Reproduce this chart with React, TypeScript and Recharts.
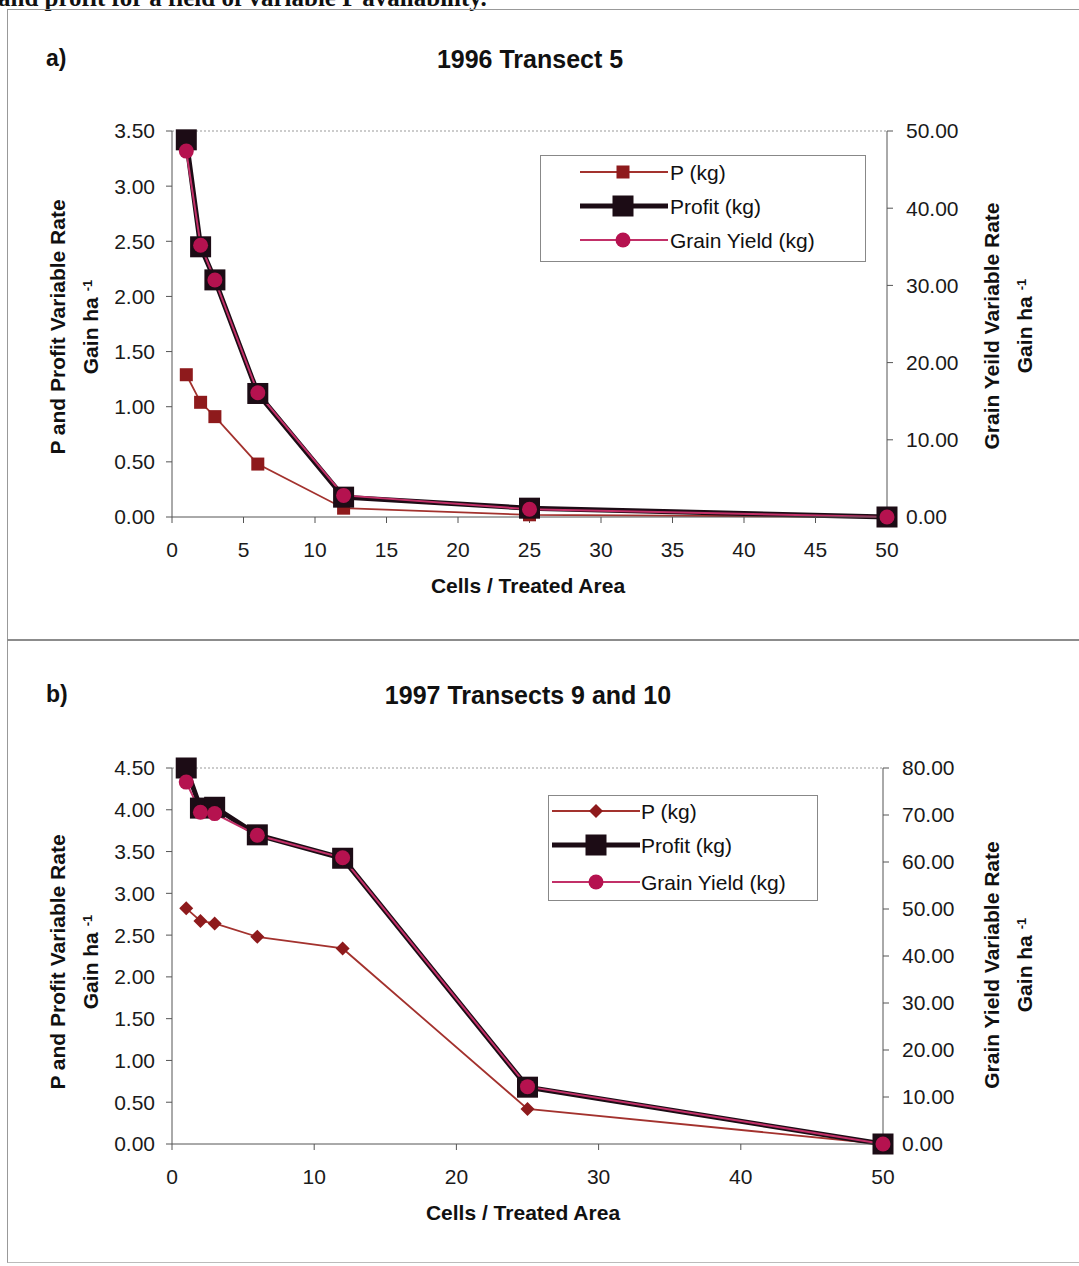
import React from "react";
import { LineChart, Line, XAxis, YAxis, ReferenceLine } from "recharts";

// x values (cells / treated area), shared by both transects
const cells = [1, 2, 3, 6, 12, 25, 50];

// a) 1996 Transect 5
const pA = [1.29, 1.04, 0.91, 0.48, 0.08, 0.02, 0];
const profitA = [3.42, 2.45, 2.15, 1.12, 0.18, 0.08, 0];
const grainA = [47.4, 35.2, 30.7, 16.1, 2.8, 1.0, 0];
const xTicksA = [0, 5, 10, 15, 20, 25, 30, 35, 40, 45, 50];
const leftTicksA = [0, 0.5, 1, 1.5, 2, 2.5, 3, 3.5];
const rightTicksA = [0, 10, 20, 30, 40, 50];

// b) 1997 Transects 9 and 10
const pB = [2.82, 2.67, 2.64, 2.48, 2.34, 0.42, 0];
const profitB = [4.5, 4.02, 4.03, 3.7, 3.42, 0.68, 0];
const grainB = [77.0, 70.6, 70.3, 65.7, 60.9, 12.2, 0];
const xTicksB = [0, 10, 20, 30, 40, 50];
const leftTicksB = [0, 0.5, 1, 1.5, 2, 2.5, 3, 3.5, 4, 4.5];
const rightTicksB = [0, 10, 20, 30, 40, 50, 60, 70, 80];

const P_LINE = "#a3322e";
const P_FILL = "#8e1a1c";
const PROFIT = "#1c0c15";
const GRAIN_LINE = "#c23068";
const GRAIN_FILL = "#b5124f";
const FONT = "'Liberation Sans', Arial, sans-serif";

const tickStyle = { fontSize: 21, fill: "#1a1a1a", fontFamily: FONT };
const axisStroke = "#555";

const squareDot = (size: number, fill: string) => (props: any) => {
  const { cx, cy, index } = props;
  if (cx == null || cy == null) return <g key={index} />;
  return <rect key={index} x={cx - size / 2} y={cy - size / 2} width={size} height={size} fill={fill} />;
};

const circleDot = (r: number, fill: string) => (props: any) => {
  const { cx, cy, index } = props;
  if (cx == null || cy == null) return <g key={index} />;
  return <circle key={index} cx={cx} cy={cy} r={r} fill={fill} />;
};

const diamondDot = (s: number, fill: string) => (props: any) => {
  const { cx, cy, index } = props;
  if (cx == null || cy == null) return <g key={index} />;
  return (
    <polygon
      key={index}
      points={`${cx},${cy - s} ${cx + s},${cy} ${cx},${cy + s} ${cx - s},${cy}`}
      fill={fill}
    />
  );
};

function Marker({ kind, x, y }: { kind: string; x: number; y: number }) {
  if (kind === "psq") return <rect x={x - 6.5} y={y - 6.5} width={13} height={13} fill={P_FILL} />;
  if (kind === "pdia") return <polygon points={`${x},${y - 7} ${x + 7},${y} ${x},${y + 7} ${x - 7},${y}`} fill={P_FILL} />;
  if (kind === "profit") return <rect x={x - 10.5} y={y - 10.5} width={21} height={21} fill={PROFIT} />;
  return <circle cx={x} cy={y} r={7.5} fill={GRAIN_FILL} />;
}

function LegendBox(props: {
  left: number; top: number; width: number; height: number;
  rows: number[]; x0: number; x1: number; mx: number; tx: number; pKind: string;
}) {
  const { left, top, width, height, rows, x0, x1, mx, tx, pKind } = props;
  const items = [
    { label: "P (kg)", color: P_LINE, w: 1.8, kind: pKind },
    { label: "Profit (kg)", color: PROFIT, w: 5, kind: "profit" },
    { label: "Grain Yield (kg)", color: GRAIN_LINE, w: 2.2, kind: "grain" },
  ];
  return (
    <svg style={{ position: "absolute", left, top }} width={width} height={height}>
      <rect x={0.5} y={0.5} width={width - 1} height={height - 1} fill="#fff" stroke="#888" />
      {items.map((it, i) => (
        <g key={it.label}>
          <line x1={x0} x2={x1} y1={rows[i]} y2={rows[i]} stroke={it.color} strokeWidth={it.w} />
          <Marker kind={it.kind} x={mx} y={rows[i]} />
          <text x={tx} y={rows[i]} dominantBaseline="central" fontSize={21} fontFamily={FONT} fill="#111">
            {it.label}
          </text>
        </g>
      ))}
    </svg>
  );
}

function VLabel({ cx, cy, line1 }: { cx: number; cy: number; line1: string }) {
  return (
    <div
      style={{
        position: "absolute", left: cx - 200, top: cy - 30, width: 400, height: 60,
        transform: "rotate(-90deg)", transformOrigin: "center", textAlign: "center",
        fontFamily: FONT, fontWeight: "bold", fontSize: 21, lineHeight: "30px", color: "#111",
      }}
    >
      <div>{line1}</div>
      <div>
        Gain ha <sup style={{ fontSize: 13, verticalAlign: "6px" }}>-1</sup>
      </div>
    </div>
  );
}

function TransectChart(props: {
  top: number; height: number; marginTop: number; marginRight: number; marginBottom: number;
  p: number[]; profit: number[]; grain: number[];
  xTicks: number[]; leftTicks: number[]; rightTicks: number[];
  leftMax: number; rightMax: number; pDot: any;
}) {
  const data = cells.map((c, i) => ({ cells: c, p: props.p[i], profit: props.profit[i], grain: props.grain[i] }));
  return (
    <div style={{ position: "absolute", left: 0, top: props.top }}>
      <LineChart
        width={1079}
        height={props.height}
        data={data}
        margin={{ top: props.marginTop, right: props.marginRight, bottom: props.marginBottom, left: 112 }}
      >
        <XAxis
          dataKey="cells" type="number" domain={[0, 50]} ticks={props.xTicks}
          stroke={axisStroke} tick={tickStyle} tickSize={6} tickMargin={19} height={40}
        />
        <YAxis
          yAxisId="l" domain={[0, props.leftMax]} ticks={props.leftTicks} width={60}
          stroke={axisStroke} tick={tickStyle} tickSize={6} tickMargin={11}
          tickFormatter={(v: number) => v.toFixed(2)}
        />
        <YAxis
          yAxisId="r" orientation="right" domain={[0, props.rightMax]} ticks={props.rightTicks} width={80}
          stroke={axisStroke} tick={tickStyle} tickSize={6} tickMargin={13}
          tickFormatter={(v: number) => v.toFixed(2)}
        />
        <ReferenceLine yAxisId="l" y={props.leftMax} stroke="#999" strokeDasharray="2 2" />
        <Line
          yAxisId="l" dataKey="p" stroke={P_LINE} strokeWidth={1.8}
          dot={props.pDot} isAnimationActive={false} type="linear"
        />
        <Line
          yAxisId="l" dataKey="profit" stroke={PROFIT} strokeWidth={5}
          dot={squareDot(21, PROFIT)} isAnimationActive={false} type="linear"
        />
        <Line
          yAxisId="r" dataKey="grain" stroke={GRAIN_LINE} strokeWidth={2}
          dot={circleDot(7.5, GRAIN_FILL)} isAnimationActive={false} type="linear"
        />
      </LineChart>
    </div>
  );
}

export default function App() {
  return (
    <div
      style={{
        position: "absolute", left: 0, top: 0, width: 1079, height: 1266,
        overflow: "hidden", background: "#fff", fontFamily: FONT,
      }}
    >
      {/* caption line cut off at the top of the page */}
      <div
        style={{
          position: "absolute", left: -2, top: -16, fontFamily: "'Liberation Serif', serif",
          fontWeight: "bold", fontSize: 25, whiteSpace: "nowrap", color: "#111",
        }}
      >
        and profit for a field of variable P availability.
      </div>

      {/* panel frames */}
      <div style={{ position: "absolute", left: 7, top: 9, width: 1080, height: 630, borderTop: "1px solid #999", borderLeft: "1px solid #999" }} />
      <div style={{ position: "absolute", left: 7, top: 639, width: 1072, height: 2, background: "#8c8c8c" }} />
      <div style={{ position: "absolute", left: 7, top: 641, width: 1080, height: 621, borderLeft: "1px solid #999", borderBottom: "1px solid #bbb" }} />

      {/* a) */}
      <div style={{ position: "absolute", left: 46, top: 45, fontWeight: "bold", fontSize: 23, color: "#111" }}>a)</div>
      <div style={{ position: "absolute", left: 280, width: 500, top: 45, textAlign: "center", fontWeight: "bold", fontSize: 25, color: "#111" }}>
        1996 Transect 5
      </div>
      <TransectChart
        top={0} height={640} marginTop={131} marginRight={112} marginBottom={83}
        p={pA} profit={profitA} grain={grainA}
        xTicks={xTicksA} leftTicks={leftTicksA} rightTicks={rightTicksA}
        leftMax={3.5} rightMax={50} pDot={squareDot(13, P_FILL)}
      />
      <LegendBox left={540} top={155} width={326} height={107} rows={[17, 51, 85]} x0={40} x1={128} mx={83} tx={130} pKind="psq" />
      <div style={{ position: "absolute", left: 278, width: 500, top: 574, textAlign: "center", fontWeight: "bold", fontSize: 21, color: "#111" }}>
        Cells / Treated Area
      </div>
      <VLabel cx={73} cy={327} line1="P and Profit Variable Rate" />
      <VLabel cx={1007} cy={326} line1="Grain Yeild Variable Rate" />

      {/* b) */}
      <div style={{ position: "absolute", left: 46, top: 681, fontWeight: "bold", fontSize: 23, color: "#111" }}>b)</div>
      <div style={{ position: "absolute", left: 278, width: 500, top: 681, textAlign: "center", fontWeight: "bold", fontSize: 25, color: "#111" }}>
        1997 Transects 9 and 10
      </div>
      <TransectChart
        top={640} height={626} marginTop={128} marginRight={116} marginBottom={82}
        p={pB} profit={profitB} grain={grainB}
        xTicks={xTicksB} leftTicks={leftTicksB} rightTicks={rightTicksB}
        leftMax={4.5} rightMax={80} pDot={diamondDot(7, P_FILL)}
      />
      <LegendBox left={548} top={795} width={270} height={106} rows={[16, 50, 87]} x0={4} x1={92} mx={48} tx={93} pKind="pdia" />
      <div style={{ position: "absolute", left: 273, width: 500, top: 1201, textAlign: "center", fontWeight: "bold", fontSize: 21, color: "#111" }}>
        Cells / Treated Area
      </div>
      <VLabel cx={73} cy={962} line1="P and Profit Variable Rate" />
      <VLabel cx={1007} cy={965} line1="Grain Yield Variable Rate" />
    </div>
  );
}
